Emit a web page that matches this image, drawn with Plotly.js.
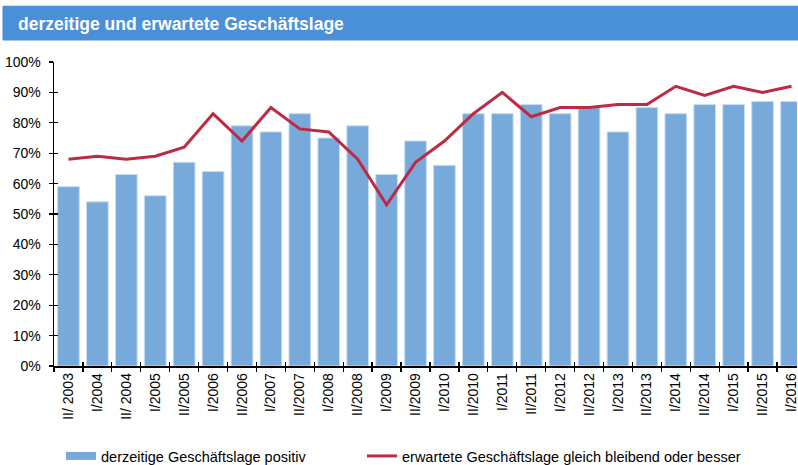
<!DOCTYPE html>
<html>
<head>
<meta charset="utf-8">
<script src="https://cdn.plot.ly/plotly-3.0.1.min.js"></script>
<style>html,body{margin:0;padding:0;background:#fff;}#chart{width:798px;height:465px;}</style>
</head>
<body>
<div id="chart"></div>
<script>
var categories = ["II/ 2003","I/2004","II/ 2004","I/2005","II/2005","I/2006","II/2006","I/2007","II/2007","I/2008","II/2008","I/2009","II/2009","I/2010","II/2010","I/2011","II/2011","I/2012","II/2012","I/2013","II/2013","I/2014","II/2014","I/2015","II/2015","I/2016"];
var derzeitig = [59,54,63,56,67,64,79,77,83,75,79,63,74,66,83,83,86,83,85,77,85,83,86,86,87,87];
var erwartet = [68,69,68,69,72,83,74,85,78,77,68,53,67,74,83,90,82,85,85,86,86,92,89,92,90,92];
var yTicks = [0,10,20,30,40,50,60,70,80,90,100];
var yTickText = yTicks.map(function(v){return v + "%";});
var nameBar = "derzeitige Geschäftslage positiv";
var nameLine = "erwartete Geschäftslage gleich bleibend oder besser";
var chartTitle = "derzeitige und erwartete Geschäftslage";

var barColor = "#77AADB";
var lineColor = "#BE2A43";
var fontFam = "Liberation Sans, Arial, sans-serif";

var traces = [
  {type:"bar", x:categories, y:derzeitig, name:nameBar, showlegend:false,
   marker:{color:barColor, line:{color:"#C6DCF1", width:1}}},
  {type:"scatter", mode:"lines", x:[null], y:[null], name:nameBar, showlegend:true, legend:"legend",
   line:{color:barColor, width:8}},
  {type:"scatter", mode:"lines", x:categories, y:erwartet, name:nameLine, xaxis:"x2", yaxis:"y2", legend:"legend2",
   line:{color:lineColor, width:3}}
];

var xRange = [-0.5, 25.19];
var layout = {
  width:798, height:465,
  margin:{l:53.5, r:1, t:62.3, b:98.7, pad:0},
  paper_bgcolor:"#fff", plot_bgcolor:"#fff",
  font:{family:fontFam, size:14, color:"#000"},
  bargap:0.25,
  title:{text:"<b>" + chartTitle + "</b>", font:{family:fontFam, size:17.5, color:"#fff"},
         x:18/798, xanchor:"left", xref:"container", y:1-23.5/465, yanchor:"middle", yref:"container"},
  shapes:[{type:"rect", xref:"paper", yref:"paper", x0:-0.0693, x1:1.002, y0:(366.3-40.7)/304, y1:(366.3-6)/304,
           fillcolor:"#4A90D9", line:{width:0}, layer:"below"}],
  xaxis:{type:"category", categoryarray:categories, range:xRange, showgrid:false, showline:true, linecolor:"#000", linewidth:1.5,
         ticks:"outside", ticklen:4, tickwidth:1.3, tickcolor:"#000", tickson:"boundaries",
         tickangle:-90, tickfont:{size:14}, automargin:false, zeroline:false},
  xaxis2:{type:"category", categoryarray:categories, overlaying:"x", range:xRange, showgrid:false, showline:false,
         ticks:"inside", ticklen:4, tickwidth:1.3, tickcolor:"#000", tickson:"boundaries",
         showticklabels:false, automargin:false, zeroline:false},
  yaxis:{range:[0,100], tickvals:yTicks, ticktext:yTickText, showgrid:false, showline:true, linecolor:"#000", linewidth:1.5,
         ticks:"outside", ticklen:4, tickwidth:1.3, tickcolor:"#000", zeroline:false, automargin:false, tickfont:{size:14},
         ticklabelstandoff:5},
  yaxis2:{range:[0,100], tickvals:yTicks, overlaying:"y", side:"left", showgrid:false, showline:false,
         ticks:"inside", ticklen:4, tickwidth:1.3, tickcolor:"#000", zeroline:false, automargin:false, showticklabels:false},
  legend:{orientation:"h", xref:"container", yref:"container", x:61/798, y:1-456/465, xanchor:"left", yanchor:"middle",
          font:{size:14.5}, bgcolor:"rgba(0,0,0,0)"},
  legend2:{orientation:"h", xref:"container", yref:"container", x:362/798, y:1-456/465, xanchor:"left", yanchor:"middle",
          font:{size:14.5}, bgcolor:"rgba(0,0,0,0)"},
  showlegend:true
};

Plotly.newPlot("chart", traces, layout, {displayModeBar:false, staticPlot:true});
</script>
</body>
</html>
